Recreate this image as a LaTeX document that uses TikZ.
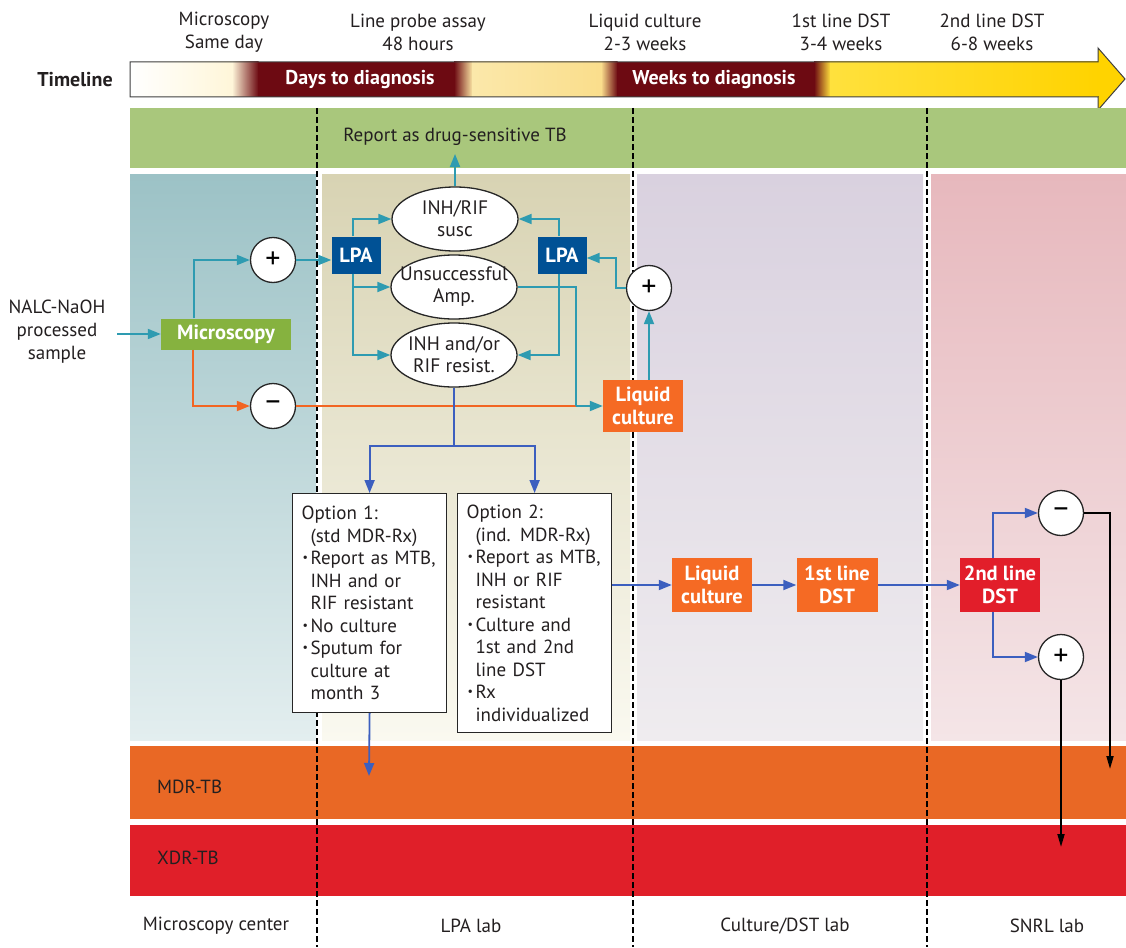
\documentclass[tikz,border=0pt]{standalone}
\usepackage{fontspec}
\setmainfont{PT Sans}
\usetikzlibrary{arrows.meta,shapes.geometric}
\definecolor{txt}{HTML}{231F20}
\definecolor{tealc}{HTML}{2E9BB1}
\definecolor{bluec}{HTML}{3C5FBF}
\definecolor{orangec}{HTML}{F26522}
\definecolor{lpac}{HTML}{005195}
\definecolor{microc}{HTML}{86B23F}
\definecolor{obox}{HTML}{F56A24}
\definecolor{rbox}{HTML}{E21E2A}
\definecolor{greenband}{HTML}{A9C77C}
\definecolor{mdrc}{HTML}{E96825}
\definecolor{xdrc}{HTML}{E01F29}
\definecolor{maroon}{HTML}{6D0A12}
\definecolor{mtop}{HTML}{9CC2C6}
\definecolor{mbot}{HTML}{E3EEEF}
\definecolor{ltop}{HTML}{D8D3B3}
\definecolor{lbot}{HTML}{FAF9F0}
\definecolor{ctop}{HTML}{D9D1DF}
\definecolor{cbot}{HTML}{EFECEF}
\definecolor{stop}{HTML}{E7B8BD}
\definecolor{sbot}{HTML}{F4E5E7}
\newcommand\optbul{\makebox[9pt][l]{\hspace{1pt}\raisebox{0.3ex}{\fontsize{12}{12}\selectfont •}}}
\newcommand\optind{\hspace*{9pt}}
\tikzset{
  lbl/.style={font=\fontsize{19}{23}\selectfont, align=center, text=txt, inner sep=0pt},
  cbox/.style={font=\bfseries\fontsize{20.5}{23}\selectfont, text=white, align=center, inner sep=0pt},
  pm/.style={circle, draw=black!85, line width=1.3pt, fill=white, minimum size=45pt, inner sep=0pt, font=\fontsize{30}{30}\selectfont},
  ell/.style={ellipse, draw=black!85, line width=1.3pt, fill=white, minimum width=126pt, minimum height=64pt, inner sep=0pt},
  elltext/.style={font=\fontsize{19.5}{22}\selectfont, align=center, text=txt, inner sep=0pt},
  optbox/.style={draw=black!85, line width=1.2pt, fill=white, anchor=north west, text width=136pt, inner xsep=9pt, inner ysep=0pt, align=left, text=txt, font=\fontsize{19}{22.5}\selectfont},
  conn/.style={line width=1.8pt, -{Triangle[length=13pt,width=10pt]}},
  bconn/.style={line width=1.8pt, -{Triangle[length=13pt,width=7pt]}},
  divider/.style={line width=1.6pt, dash pattern=on 6pt off 3pt, black},
}
\begin{document}
\begin{tikzpicture}[x=1pt,y=-1pt]
\useasboundingbox (0,0) rectangle (1126,947);
\fill[white] (0,0) rectangle (1126,947);

% ---------- timeline arrow ----------
\fill[color={rgb,255:red,255;green,211;blue,0}] (1098,48) -- (1125,79) -- (1098,110) -- cycle;
\fill[left color=white, right color={rgb,255:red,255;green,246;blue,217}] (130,62) rectangle (232.5,97);
\fill[left color={rgb,255:red,255;green,246;blue,217}, right color=maroon] (232,62) rectangle (258.5,97);
\fill[maroon] (258,62) rectangle (454.5,97);
\fill[left color=maroon, right color={rgb,255:red,251;green,230;blue,164}] (454,62) rectangle (472.5,97);
\fill[left color={rgb,255:red,251;green,232;blue,170}, right color={rgb,255:red,250;green,222;blue,140}] (472,62) rectangle (601.5,97);
\fill[left color={rgb,255:red,250;green,222;blue,140}, right color=maroon] (601,62) rectangle (617.5,97);
\fill[maroon] (617,62) rectangle (814.5,97);
\fill[left color=maroon, right color={rgb,255:red,255;green,225;blue,61}] (814,62) rectangle (830.5,97);
\fill[left color={rgb,255:red,255;green,225;blue,61}, right color={rgb,255:red,255;green,211;blue,0}] (830,62) rectangle (1098.5,97);
\draw[line width=1pt, draw=black!75, line join=miter] (130,62) -- (1098,62) -- (1098,48) -- (1125,79) -- (1098,110) -- (1098,97) -- (130,97) -- cycle;
\node[font=\bfseries\fontsize{20}{23}\selectfont, text=white] (days) at (360,80) {Days to diagnosis};
\node[font=\bfseries\fontsize{20}{23}\selectfont, text=white] (weeks) at (714,80) {Weeks to diagnosis};
\node[font=\bfseries\fontsize{20}{23}\selectfont, text=txt] (tl) at (75,80) {Timeline};

% ---------- top labels ----------
\node[lbl] (t1) at (224,32) {Microscopy\\Same day};
\node[lbl] (t2) at (418,32) {Line probe assay\\48 hours};
\node[lbl] (t3) at (645,32) {Liquid culture\\2-3 weeks};
\node[lbl] (t4) at (841,32) {1st line DST\\3-4 weeks};
\node[lbl] (t5) at (992,32) {2nd line DST\\6-8 weeks};

% ---------- bands and panels ----------
\fill[greenband] (130,108) rectangle (1126,168);
\fill[top color=mtop, bottom color=mbot] (130,174) rectangle (316,740);
\fill[top color=ltop, bottom color=lbot] (322,174) rectangle (630,740);
\fill[top color=ctop, bottom color=cbot] (637,174) rectangle (923,740);
\fill[top color=stop, bottom color=sbot] (931,174) rectangle (1126,740);
\fill[mdrc] (130,746) rectangle (1126,819);
\fill[xdrc] (130,825) rectangle (1126,896);

\draw[divider] (317,108) -- (317,947);
\draw[divider] (633,108) -- (633,947);
\draw[divider] (927,108) -- (927,947);

\node[lbl] (rep) at (455,137) {Report as drug-sensitive TB};
\node[lbl, anchor=west] (mdr) at (157,787) {MDR-TB};
\node[lbl, anchor=west] (xdr) at (157,858) {XDR-TB};
\node[lbl] (b1) at (216,926) {Microscopy center};
\node[lbl] (b2) at (471,926) {LPA lab};
\node[lbl] (b3) at (785,926) {Culture/DST lab};
\node[lbl] (b4) at (1047,926) {SNRL lab};

% ---------- nodes ----------
\node[lbl] (nalc) at (57,332) {NALC-NaOH\\processed\\sample};
\node[cbox, fill=microc, minimum width=130pt, minimum height=31pt] (micro) at (226,334) {Microscopy};
\node[pm] (pl1) at (273,260) {+};
\node[pm] (mi1) at (273,406) {–};
\node[cbox, fill=lpac, minimum width=49pt, minimum height=37pt] (lpa1) at (356,255) {LPA};
\node[cbox, fill=lpac, minimum width=49pt, minimum height=37pt] (lpa2) at (562,255) {LPA};
\node[ell] (e1) at (455,219) {};
\node[elltext] (e1t) at (e1.center) {INH/RIF\\susc};
\node[ell] (e2) at (454,287) {};
\node[elltext] (e2t) at (e2.center) {Unsuccessful\\Amp.};
\node[ell] (e3) at (454,355) {};
\node[elltext] (e3t) at (e3.center) {INH and/or\\RIF resist.};
\node[pm] (pl2) at (649,288) {+};
\node[cbox, fill=obox, minimum width=80pt, minimum height=52pt] (lc1) at (643,406) {Liquid\\culture};

\node[optbox, minimum height=219pt] (op1) at (292,493) {Option 1:\\
\optind(std MDR-Rx)\\
\optbul Report as MTB,\\
\optind INH and or\\
\optind RIF resistant\\
\optbul No culture\\
\optbul Sputum for\\
\optind culture at\\
\optind month 3};
\node[optbox, minimum height=239pt] (op2) at (457,493) {Option 2:\\
\optind(ind. MDR-Rx)\\
\optbul Report as MTB,\\
\optind INH or RIF\\
\optind resistant\\
\optbul Culture and\\
\optind 1st and 2nd\\
\optind line DST\\
\optbul Rx\\
\optind individualized};

\node[cbox, fill=obox, minimum width=80pt, minimum height=54pt] (lc2) at (712,585) {Liquid\\culture};
\node[cbox, fill=obox, minimum width=81pt, minimum height=54pt] (dst1) at (837,585) {1st line\\DST};
\node[cbox, fill=rbox, minimum width=80pt, minimum height=54pt] (dst2) at (1000,585) {2nd line\\DST};
\node[pm] (mi2) at (1061,513) {–};
\node[pm] (pl3) at (1061,657) {+};

% ---------- coordinates ----------
\coordinate (inp) at (117,334);
\coordinate (repin) at (455,154);
\coordinate (j) at (576,406);
\coordinate (bj) at (454,446);
\coordinate (mdrend) at (369,776);
\coordinate (xr) at (1110,769);
\coordinate (xd) at (1061,847);

% ---------- connectors ----------
\draw[conn, tealc] (inp) -- (micro.west);
\draw[conn, tealc] ([xshift=-32pt]micro.north) |- (pl1.west);
\draw[conn, orangec] ([xshift=-33pt]micro.south) |- (mi1.west);
\draw[conn, tealc] (pl1.east) -- (pl1.east -| lpa1.west);
\draw[conn, tealc] ([xshift=-3pt]lpa1.north) |- (e1.west);
\draw[conn, tealc] ([xshift=-3pt]lpa1.south) |- (e2.west);
\draw[conn, tealc] ([xshift=-3pt]lpa1.south) |- (e3.west);
\draw[conn, tealc] ([xshift=-3pt]lpa2.north) |- (e1.east);
\draw[conn, tealc] ([xshift=-3pt]lpa2.south) |- (e3.east);
\draw[conn, tealc] (pl2.west) -- ++(-10,0) |- ([yshift=-3pt]lpa2.east);
\draw[conn, tealc] (lc1.north -| pl2) -- (pl2.south);
\draw[conn, tealc] (e1.north) -- (repin);
\draw[line width=1.8pt, orangec] (mi1.east) -- (j);
\draw[line width=1.8pt, tealc] (e2.east) -| (j);
\draw[conn, tealc] (j) -- (lc1.west);
\draw[line width=1.8pt, bluec] (e3.south) -- (bj);
\draw[conn, bluec] (bj) -| (op1.north);
\draw[conn, bluec] (bj) -| (op2.north);
\draw[conn, bluec] (op1.south) -- (mdrend);
\draw[conn, bluec] (op2.east |- lc2.west) -- (lc2.west);
\draw[conn, bluec] (lc2) -- (dst1);
\draw[conn, bluec] (dst1) -- (dst2);
\draw[conn, bluec] ([xshift=-7pt]dst2.north) |- (mi2.west);
\draw[conn, bluec] ([xshift=-7pt]dst2.south) |- (pl3.west);
\draw[bconn, black] (mi2.east) -| (xr);
\draw[bconn, black] (pl3.south) -- (xd);
\end{tikzpicture}
\end{document}
